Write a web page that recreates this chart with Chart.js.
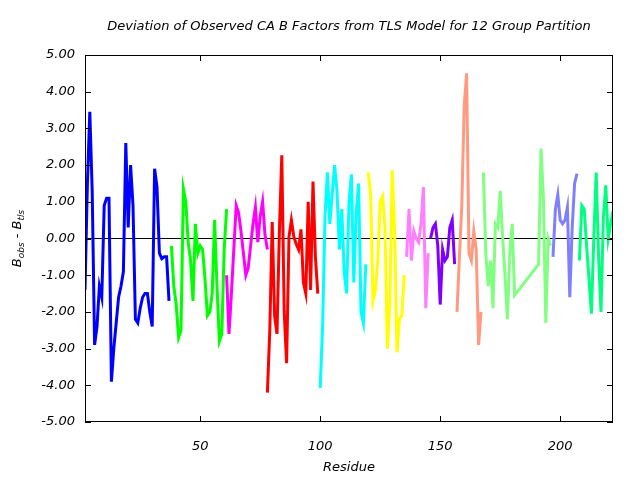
<!DOCTYPE html>
<html>
<head>
<meta charset="utf-8">
<script src="https://cdn.jsdelivr.net/npm/chart.js@4.4.0/dist/chart.umd.min.js"></script>
<style>
body{margin:0;background:#fff;}
</style>
</head>
<body>
<canvas id="chart" width="640" height="480"></canvas>
<script>
// chart title and axis text
const chartTitle = "Deviation of Observed CA B Factors from TLS Model for 12 Group Partition";
const xTitle = "Residue";

// axis ranges
const xMin = 2, xMax = 222;
const yMin = -5, yMax = 5;

// one colour per TLS group
const groupColors = ["#0000ff","#00ff00","#ff00ff","#ff0000","#00ffff","#ffff00",
                     "#ff80ff","#8000ff","#ff9980","#80ff80","#8080ff","#00ff80"];

// residues and B_obs - B_tls of each group
const res1 = [2,3,4,5,6,7,8,9,10,11,12,13,14,15,16,17,18,19,20,21,22,23,24,25,26,27,28,29,30,31,32,33,34,35,36,37];
const dev1 = [-1.4,1.5,3.45,1.3,-2.9,-2.4,-1.3,-1.6,0.9,1.1,1.1,-3.9,-3.0,-2.3,-1.6,-1.3,-0.9,2.6,0.3,2.0,0.9,-2.2,-2.3,-1.9,-1.6,-1.5,-1.5,-2.0,-2.4,1.9,1.4,-0.4,-0.55,-0.5,-0.5,-1.7];

const res2 = [38,39,40,41,42,43,44,45,46,47,48,49,50,51,52,53,54,55,56,57,58,59,60,61];
const dev2 = [-0.2,-1.3,-1.8,-2.7,-2.5,1.35,1.0,-0.1,-0.6,-1.7,0.4,-0.4,-0.2,-0.3,-1.1,-2.1,-2.0,-1.5,0.5,-1.3,-2.8,-2.6,-0.3,0.8];

const res3 = [61,62,63,64,65,66,67,68,69,70,71,72,73,74,75,76,77,78];
const dev3 = [-1.0,-2.6,-1.5,-0.3,0.9,0.7,0.2,-0.4,-1.0,-0.8,-0.2,0.4,0.85,-0.1,0.6,1.0,0.1,-0.3];

const res4 = [78,79,80,81,82,83,84,85,86,87,88,89,90,91,92,93,94,95,96,97,98,99];
const dev4 = [-4.2,-2.5,0.45,-2.1,-2.6,0.2,2.27,-2.0,-3.4,0.05,0.5,0.05,-0.15,-0.3,0.25,-1.2,-1.5,1.0,-1.4,1.55,-0.5,-1.5];

const res5 = [100,101,102,103,104,105,106,107,108,109,110,111,112,113,114,115,116,117,118,119];
const dev5 = [-4.07,-2.4,0.6,1.8,0.4,1.2,2.0,1.3,-0.3,0.8,-0.9,-1.5,1.0,1.75,-1.2,0.7,1.5,-2.0,-2.3,-0.7];

const res6 = [120,121,122,123,124,125,126,127,128,129,130,131,132,133,134,135];
const dev6 = [1.8,1.2,-1.7,-1.4,-0.6,1.0,1.15,0.3,-3.0,-1.8,1.86,0.2,-3.1,-2.2,-2.1,-1.0];

const res7 = [136,137,138,139,140,141,142,143,144,145];
const dev7 = [-0.5,0.8,-0.6,0.2,0.0,-0.1,0.4,1.4,-1.9,-0.4];

const res8 = [146,147,148,149,150,151,152,153,154,155,156];
const dev8 = [0.0,0.3,0.4,-0.2,-1.8,-0.3,-0.6,-0.5,0.3,0.5,-0.7];

const res9 = [157,158,159,160,161,162,163,164,165,166,167];
const dev9 = [-2.0,-0.5,0.9,3.6,4.5,-0.4,-0.6,0.2,-0.3,-2.9,-2.0];

const res10 = [168,169,170,171,172,173,174,175,176,177,178,179,180,181,191,192,193,194,195,196];
const dev10 = [1.8,-0.4,-1.3,-0.6,-1.9,0.4,0.3,1.3,0.05,-1.0,-2.2,-0.4,0.4,-1.55,-0.7,2.45,1.1,-2.3,0.0,-0.2];

const res11 = [197,198,199,200,201,202,203,204,205,206,207];
const dev11 = [-0.5,0.8,1.2,0.5,0.4,0.5,0.85,-1.6,0.3,1.5,1.77];

const res12 = [208,209,210,211,212,213,214,215,216,217,218,219,220,221,222];
const dev12 = [-0.6,0.9,0.8,-0.2,-1.1,-2.05,0.0,1.8,-0.5,-2.0,0.6,1.45,0.0,0.4,0.75];

const groupRes = [res1,res2,res3,res4,res5,res6,res7,res8,res9,res10,res11,res12];
const groupDev = [dev1,dev2,dev3,dev4,dev5,dev6,dev7,dev8,dev9,dev10,dev11,dev12];

const font = '"DejaVu Sans", sans-serif';

let datasets = [];
groupRes.forEach((res, i) => {
  datasets.push({
    data: res.map((r, k) => ({x: r, y: groupDev[i][k]})),
    borderColor: groupColors[i],
    borderWidth: 3,
    pointRadius: 0,
    tension: 0,
    fill: false
  });
});

// zero line, last so it is drawn under the groups
datasets.push({
  data: [{x: xMin, y: 0}, {x: xMax, y: 0}],
  borderColor: "#000",
  borderWidth: 1,
  pointRadius: 0,
  fill: false
});

// frame, inward ticks, title and y axis title with subscripts
const decor = {
  id: "decor",
  afterDraw(chart) {
    const ctx = chart.ctx;
    const a = chart.chartArea;
    const xs = chart.scales.x, ys = chart.scales.y;
    ctx.save();
    ctx.strokeStyle = "#000";
    ctx.lineWidth = 1;
    ctx.strokeRect(Math.round(a.left) + 0.5, Math.round(a.top) + 0.5,
                   Math.round(a.right - a.left) - 1, Math.round(a.bottom - a.top) - 1);
    ctx.beginPath();
    xs.ticks.forEach(t => {
      const px = Math.round(xs.getPixelForValue(t.value)) + 0.5;
      ctx.moveTo(px, a.bottom); ctx.lineTo(px, a.bottom - 6);
      ctx.moveTo(px, a.top); ctx.lineTo(px, a.top + 6);
    });
    ys.ticks.forEach(t => {
      const py = Math.round(ys.getPixelForValue(t.value)) + 0.5;
      ctx.moveTo(a.left, py); ctx.lineTo(a.left + 6, py);
      ctx.moveTo(a.right, py); ctx.lineTo(a.right - 6, py);
    });
    ctx.stroke();

    ctx.fillStyle = "#000";
    ctx.font = "italic 13px " + font;
    ctx.textAlign = "center";
    ctx.textBaseline = "middle";
    ctx.fillText(chartTitle, (a.left + a.right) / 2, 27);

    // B_obs - B_tls
    const parts = [["B", 13, 0], ["obs", 9, 4], [" - B", 13, 0], ["tls", 9, 4]];
    let total = 0;
    parts.forEach(p => { ctx.font = "italic " + p[1] + "px " + font; total += ctx.measureText(p[0]).width; });
    ctx.translate(18, (a.top + a.bottom) / 2);
    ctx.rotate(-Math.PI / 2);
    ctx.textAlign = "left";
    let cx = -total / 2;
    parts.forEach(p => {
      ctx.font = "italic " + p[1] + "px " + font;
      ctx.fillText(p[0], cx, p[2]);
      cx += ctx.measureText(p[0]).width;
    });
    ctx.restore();
  }
};

new Chart(document.getElementById("chart"), {
  type: "line",
  data: { datasets: datasets },
  options: {
    responsive: false,
    animation: false,
    layout: { padding: { top: 55, right: 27, left: 0, bottom: 0 } },
    plugins: { legend: { display: false }, tooltip: { enabled: false }, title: { display: false } },
    scales: {
      x: {
        type: "linear",
        min: xMin, max: xMax,
        grid: { display: false, drawTicks: false },
        border: { display: false },
        ticks: { stepSize: 50, includeBounds: false, padding: 17, color: "#000",
                 font: { family: font, size: 13, style: "italic" } },
        title: { display: true, text: xTitle, color: "#000", padding: { top: 4, bottom: 5 },
                 font: { family: font, size: 13, style: "italic" } },
        afterFit(scale) { scale.height = 58; }
      },
      y: {
        min: yMin, max: yMax,
        grid: { display: false, drawTicks: false },
        border: { display: false },
        ticks: { stepSize: 1, padding: 10, color: "#000",
                 font: { family: font, size: 13, style: "italic" },
                 callback: v => v.toFixed(2) },
        afterFit(scale) { scale.width = 85; }
      }
    }
  },
  plugins: [decor]
});
</script>
</body>
</html>
